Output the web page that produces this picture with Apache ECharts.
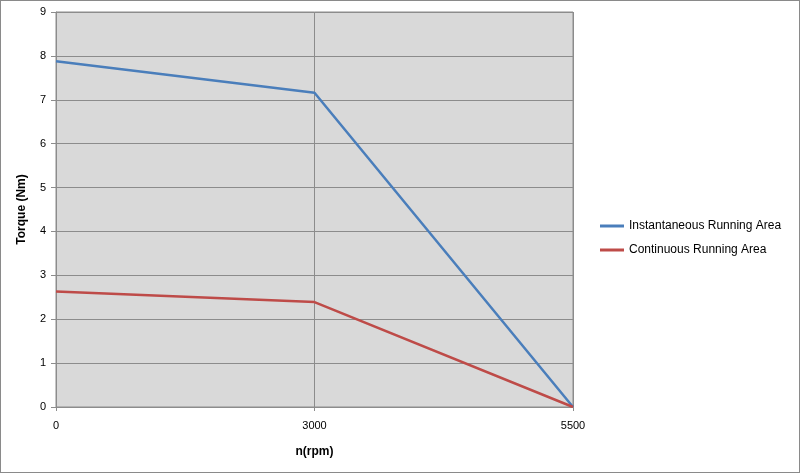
<!DOCTYPE html>
<html>
<head>
<meta charset="utf-8">
<script src="https://cdn.jsdelivr.net/npm/echarts@6/dist/echarts.min.js"></script>
<style>
html,body{margin:0;padding:0;background:#fff;}
#c{width:800px;height:473px;box-sizing:border-box;border:1px solid #8a8a8a;}
</style>
</head>
<body>
<div id="c"></div>
<script>
const categories = ['0', '3000', '5500'];
const instantaneous = [7.88, 7.16, 0];
const continuous = [2.63, 2.39, 0];
const seriesNames = ['Instantaneous Running Area', 'Continuous Running Area'];

const chart = echarts.init(document.getElementById('c'));
const font = 'Liberation Sans, Arial, sans-serif';
chart.setOption({
  animation: false,
  grid: {
    left: 55, right: 226, top: 11, bottom: 65,
    show: true, backgroundColor: '#d9d9d9', borderColor: '#8c8c8c', borderWidth: 1
  },
  legend: {
    orient: 'vertical', left: 594, top: 214,
    icon: 'rect', itemWidth: 24, itemHeight: 3, itemGap: 12,
    textStyle: { fontFamily: font, fontSize: 12, color: '#000' },
    data: seriesNames
  },
  xAxis: {
    type: 'category', data: categories, boundaryGap: false,
    name: 'n(rpm)', nameLocation: 'middle', nameGap: 39,
    nameTextStyle: { fontFamily: font, fontSize: 12, fontWeight: 'bold', color: '#000' },
    axisLine: { lineStyle: { color: '#8c8c8c' } },
    axisTick: { show: true, length: 4, lineStyle: { color: '#8c8c8c' } },
    axisLabel: { fontFamily: font, fontSize: 11, color: '#000', margin: 13 },
    splitLine: { show: true, lineStyle: { color: '#8c8c8c', width: 1 } }
  },
  yAxis: {
    type: 'value', min: 0, max: 9, interval: 1,
    name: 'Torque (Nm)', nameLocation: 'middle', nameGap: 28, nameRotate: 90,
    nameTextStyle: { fontFamily: font, fontSize: 12, fontWeight: 'bold', color: '#000' },
    axisLine: { show: true, lineStyle: { color: '#8c8c8c' } },
    axisTick: { show: true, length: 5, lineStyle: { color: '#8c8c8c' } },
    axisLabel: { fontFamily: font, fontSize: 11, color: '#000', margin: 10 },
    splitLine: { show: true, lineStyle: { color: '#8c8c8c', width: 1 } }
  },
  series: [
    { name: seriesNames[0], type: 'line', data: instantaneous, symbol: 'none',
      lineStyle: { color: '#4a7ebb', width: 2.5 }, itemStyle: { color: '#4a7ebb' } },
    { name: seriesNames[1], type: 'line', data: continuous, symbol: 'none',
      lineStyle: { color: '#be4b48', width: 2.5 }, itemStyle: { color: '#be4b48' } }
  ]
});
</script>
</body>
</html>
